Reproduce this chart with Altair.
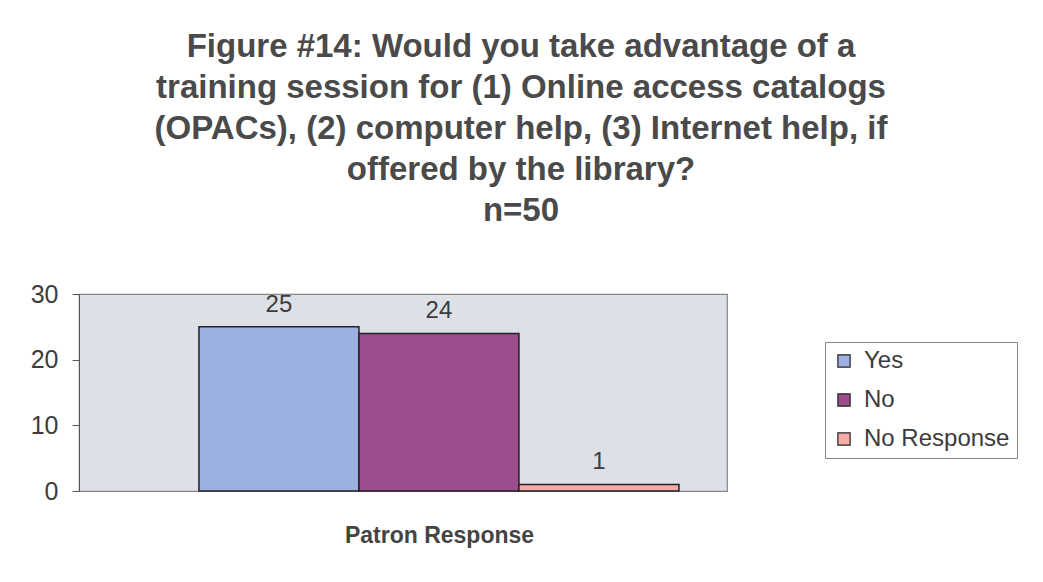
import altair as alt
import pandas as pd

series = ["Yes", "No", "No Response"]
values = [25, 24, 1]
colors = ["#9db0e2", "#9c4d8e", "#f7aaa8"]
title_lines = [
    "Figure #14: Would you take advantage of a",
    "training session for (1) Online access catalogs",
    "(OPACs), (2) computer help, (3) Internet help, if",
    "offered by the library?",
    "n=50",
]

df = pd.DataFrame({"series": series, "value": values})

FONT = "Liberation Sans"
TXT = "#3c3c3c"

x = alt.X(
    "series:N",
    sort=series,
    scale=alt.Scale(paddingInner=0, paddingOuter=0.525, align=0.714),
    axis=alt.Axis(
        title="Patron Response",
        labels=False,
        ticks=False,
        domain=False,
        titleX=360,
        titleY=51,
        titleFont=FONT,
        titleFontSize=23,
        titleFontWeight="bold",
        titleColor="#444444",
        titleBaseline="alphabetic",
    ),
)
y = alt.Y(
    "value:Q",
    scale=alt.Scale(domain=[0, 30]),
    axis=alt.Axis(
        values=[0, 10, 20, 30],
        title=None,
        grid=False,
        labelFont=FONT,
        labelFontSize=25,
        labelColor=TXT,
        labelPadding=14,
        tickSize=7,
        tickColor="#555555",
        domainColor="#555555",
    ),
)

bars = alt.Chart(df).mark_bar(stroke="#222222", strokeWidth=1.5).encode(
    x=x,
    y=y,
    color=alt.Color(
        "series:N",
        sort=series,
        scale=alt.Scale(domain=series, range=colors),
        legend=alt.Legend(
            title=None,
            orient="none",
            legendX=746,
            legendY=48,
            symbolType="square",
            symbolSize=150,
            symbolStrokeColor="#222222",
            symbolStrokeWidth=1.2,
            symbolOffset=0,
            labelFont=FONT,
            labelFontSize=24,
            labelColor=TXT,
            labelOffset=8,
            rowPadding=15,
            padding=7,
            strokeColor="#888888",
            fillColor="white",
            labelLimit=300,
        ),
    ),
)

labels = alt.Chart(df).mark_text(
    baseline="bottom", dy=-10, font=FONT, fontSize=24, color=TXT
).encode(x=alt.X("series:N", sort=series), y="value:Q", text="value:Q")

chart = (
    alt.layer(bars, labels)
    .properties(
        width=648,
        height=197,
        title=alt.TitleParams(
            text=title_lines,
            anchor="middle",
            frame="group",
            dx=118,
            offset=54,
            font=FONT,
            fontSize=33,
            fontWeight="bold",
            color="#4a4a4a",
            lineHeight=41,
        ),
        autosize=alt.AutoSizeParams(type="none"),
        padding={"left": 71, "top": 286, "right": 300, "bottom": 75},
        background="white",
    )
    .configure_view(fill="#dde0e6", stroke="#888888", strokeWidth=1.2)
)

chart.save("out.html", embed_options={"renderer": "svg", "actions": False})
